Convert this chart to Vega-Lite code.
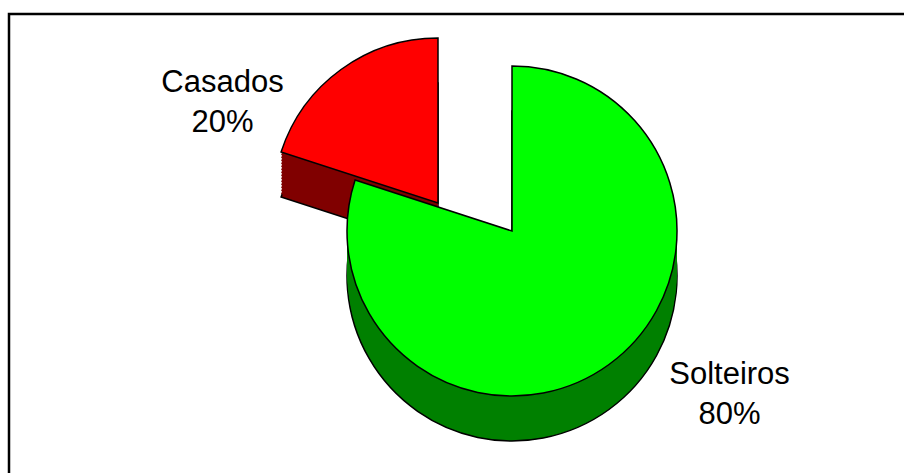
{
  "$schema": "https://vega.github.io/schema/vega-lite/v6.json",
  "width": 1000,
  "height": 480,
  "autosize": "none",
  "padding": {"left": 9, "top": 14, "right": -105, "bottom": -21},
  "background": "white",
  "view": {"stroke": "black", "strokeWidth": 2.5, "fill": "white"},
  "config": {"font": "Liberation Sans"},
  "data": {"values": [
    {"estado": "Solteiros", "percent": 80, "order": 1, "label": ["Solteiros", "80%"]},
    {"estado": "Casados", "percent": 20, "order": 2, "label": ["Casados", "20%"]}
  ]},
  "transform": [
    {"stack": "percent", "groupby": [], "sort": [{"field": "order", "order": "ascending"}], "as": ["start", "end"]}
  ],
  "encoding": {
    "theta": {"field": "start", "type": "quantitative", "scale": {"domain": [0, 100]}},
    "theta2": {"field": "end"}
  },
  "layer": [
    {"transform": [{"filter": "datum.estado === 'Solteiros'"}],
     "mark": {"type": "arc", "radius": 165, "xOffset": 3, "yOffset": 22, "fill": "#008000", "stroke": "black", "strokeWidth": 1.5}},
    {"transform": [{"filter": "datum.estado === 'Solteiros'"}],
     "mark": {"type": "arc", "radius": 165, "xOffset": 3, "yOffset": 17, "fill": "#008000"}},
    {"transform": [{"filter": "datum.estado === 'Solteiros'"}],
     "mark": {"type": "arc", "radius": 165, "xOffset": 3, "yOffset": 12, "fill": "#008000"}},
    {"transform": [{"filter": "datum.estado === 'Solteiros'"}],
     "mark": {"type": "arc", "radius": 165, "xOffset": 3, "yOffset": 7, "fill": "#008000"}},
    {"transform": [{"filter": "datum.estado === 'Solteiros'"}],
     "mark": {"type": "arc", "radius": 165, "xOffset": 3, "yOffset": 2, "fill": "#008000"}},
    {"transform": [{"filter": "datum.estado === 'Solteiros'"}],
     "mark": {"type": "arc", "radius": 165, "xOffset": 3, "yOffset": -3, "fill": "#008000"}},
    {"transform": [{"filter": "datum.estado === 'Solteiros'"}],
     "mark": {"type": "arc", "radius": 165, "xOffset": 3, "yOffset": -8, "fill": "#008000"}},
    {"transform": [{"filter": "datum.estado === 'Solteiros'"}],
     "mark": {"type": "arc", "radius": 165, "xOffset": 3, "yOffset": -13, "fill": "#008000"}},
    {"transform": [{"filter": "datum.estado === 'Solteiros'"}],
     "mark": {"type": "arc", "radius": 165, "xOffset": 3, "yOffset": -18, "fill": "#008000"}},
    {"transform": [{"filter": "datum.estado === 'Casados'"}],
     "mark": {"type": "arc", "radius": 165, "xOffset": -71, "yOffset": -6, "fill": "#800000", "stroke": "black", "strokeWidth": 1.5}},
    {"transform": [{"filter": "datum.estado === 'Casados'"}],
     "mark": {"type": "arc", "radius": 165, "xOffset": -71, "yOffset": -9, "fill": "#800000"}},
    {"transform": [{"filter": "datum.estado === 'Casados'"}],
     "mark": {"type": "arc", "radius": 165, "xOffset": -71, "yOffset": -12, "fill": "#800000"}},
    {"transform": [{"filter": "datum.estado === 'Casados'"}],
     "mark": {"type": "arc", "radius": 165, "xOffset": -71, "yOffset": -15, "fill": "#800000"}},
    {"transform": [{"filter": "datum.estado === 'Casados'"}],
     "mark": {"type": "arc", "radius": 165, "xOffset": -71, "yOffset": -18, "fill": "#800000"}},
    {"transform": [{"filter": "datum.estado === 'Casados'"}],
     "mark": {"type": "arc", "radius": 165, "xOffset": -71, "yOffset": -21, "fill": "#800000"}},
    {"transform": [{"filter": "datum.estado === 'Casados'"}],
     "mark": {"type": "arc", "radius": 165, "xOffset": -71, "yOffset": -24, "fill": "#800000"}},
    {"transform": [{"filter": "datum.estado === 'Casados'"}],
     "mark": {"type": "arc", "radius": 165, "xOffset": -71, "yOffset": -27, "fill": "#800000"}},
    {"transform": [{"filter": "datum.estado === 'Casados'"}],
     "mark": {"type": "arc", "radius": 165, "xOffset": -71, "yOffset": -30, "fill": "#800000"}},
    {"transform": [{"filter": "datum.estado === 'Casados'"}],
     "mark": {"type": "arc", "radius": 165, "xOffset": -71, "yOffset": -33, "fill": "#800000"}},
    {"transform": [{"filter": "datum.estado === 'Casados'"}],
     "mark": {"type": "arc", "radius": 165, "xOffset": -71, "yOffset": -36, "fill": "#800000"}},
    {"transform": [{"filter": "datum.estado === 'Casados'"}],
     "mark": {"type": "arc", "radius": 165, "xOffset": -71, "yOffset": -39, "fill": "#800000"}},
    {"transform": [{"filter": "datum.estado === 'Casados'"}],
     "mark": {"type": "arc", "radius": 165, "xOffset": -71, "yOffset": -42, "fill": "#800000"}},
    {"transform": [{"filter": "datum.estado === 'Casados'"}],
     "mark": {"type": "arc", "radius": 165, "xOffset": -71, "yOffset": -45, "fill": "#800000"}},
    {"transform": [{"filter": "datum.estado === 'Casados'"}],
     "mark": {"type": "arc", "radius": 165, "xOffset": -71, "yOffset": -48, "fill": "#800000"}},
    {"transform": [{"filter": "datum.estado === 'Solteiros'"}],
     "mark": {"type": "arc", "radius": 165, "xOffset": 3, "yOffset": -23, "fill": "#00FF00", "stroke": "black", "strokeWidth": 1.5}},
    {"transform": [{"filter": "datum.estado === 'Casados'"}],
     "mark": {"type": "arc", "radius": 165, "xOffset": -71, "yOffset": -51, "fill": "#FF0000", "stroke": "black", "strokeWidth": 1.5}},
    {"mark": {"type": "text", "radius": 268, "xOffset": -129, "yOffset": 55, "fontSize": 31, "lineHeight": 40, "color": "black", "align": "center", "baseline": "alphabetic"},
     "encoding": {
       "theta": {"field": "percent", "type": "quantitative", "stack": true, "sort": {"field": "order"}},
       "theta2": null,
       "text": {"condition": {"test": "datum.estado === 'Casados'", "field": "label"}, "value": ""},
       "order": {"field": "order"}
     }},
    {"mark": {"type": "text", "radius": 268, "xOffset": 63, "yOffset": -87, "fontSize": 31, "lineHeight": 40, "color": "black", "align": "center", "baseline": "alphabetic"},
     "encoding": {
       "theta": {"field": "percent", "type": "quantitative", "stack": true, "sort": {"field": "order"}},
       "theta2": null,
       "text": {"condition": {"test": "datum.estado === 'Solteiros'", "field": "label"}, "value": ""},
       "order": {"field": "order"}
     }}
  ]
}
